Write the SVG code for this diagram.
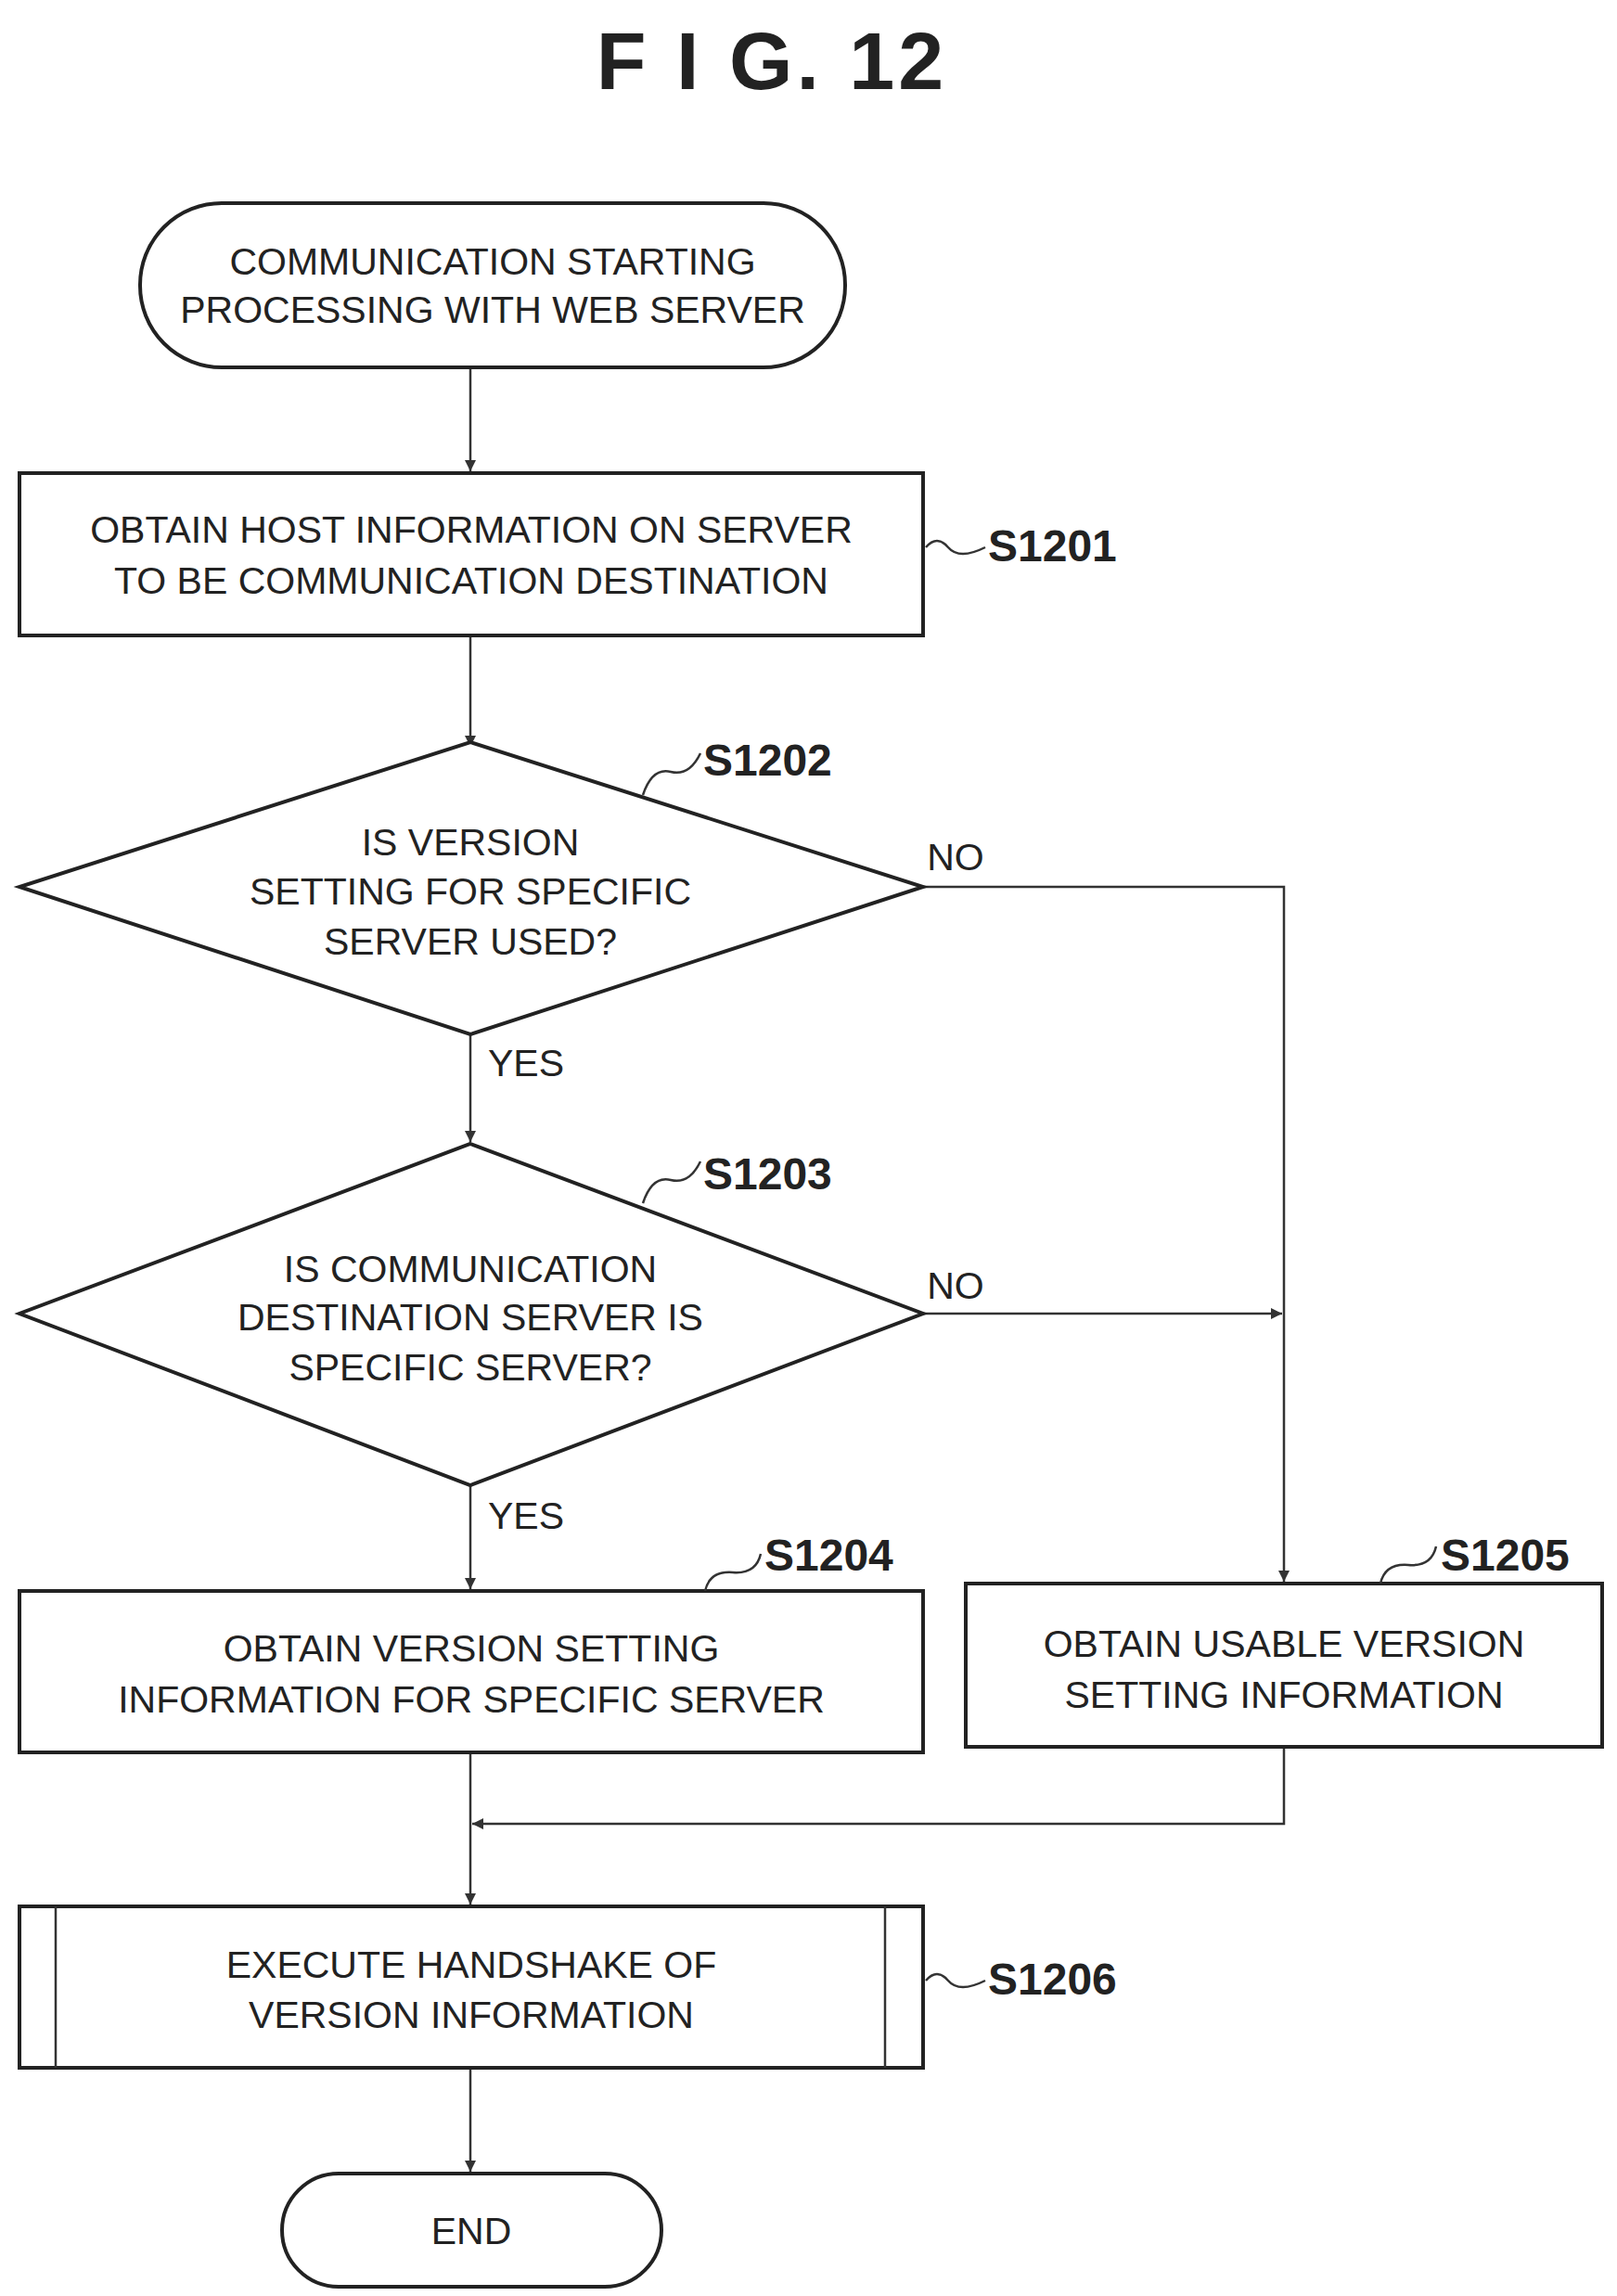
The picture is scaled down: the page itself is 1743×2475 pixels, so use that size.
<svg xmlns="http://www.w3.org/2000/svg" width="1743" height="2475" viewBox="0 0 1743 2475">
<style>
.s{fill:#fff;stroke:#222;stroke-width:4}
.t{font-family:"Liberation Sans",Arial,sans-serif;font-size:41px;fill:#222;text-anchor:middle}
.l{font-family:"Liberation Sans",Arial,sans-serif;font-size:48px;font-weight:bold;fill:#222}
.c{fill:none;stroke:#333;stroke-width:2.5}
</style>
<defs><marker id="a" markerWidth="14" markerHeight="14" refX="12" refY="7" orient="auto" markerUnits="userSpaceOnUse"><path d="M0,1 L12,7 L0,13 z" fill="#333"/></marker></defs>
<rect width="1743" height="2475" fill="#fff"/>
<text x="832" y="96" font-family="Liberation Sans,Arial,sans-serif" font-size="88" font-weight="bold" text-anchor="middle" letter-spacing="4" fill="#222">F I G. 12</text>
<g id="connectors">
<path class="c" d="M507,396 V508" marker-end="url(#a)"/>
<path class="c" d="M507,685 V805" marker-end="url(#a)"/>
<path class="c" d="M507,1115 V1231" marker-end="url(#a)"/>
<path class="c" d="M507,1601 V1713" marker-end="url(#a)"/>
<path class="c" d="M995,956 H1384 V1705" marker-end="url(#a)"/>
<path class="c" d="M995,1416 H1382" marker-end="url(#a)"/>
<path class="c" d="M1384,1883 V1966 H509" marker-end="url(#a)"/>
<path class="c" d="M507,1889 V2053" marker-end="url(#a)"/>
<path class="c" d="M507,2229 V2341" marker-end="url(#a)"/>
<text class="t" x="1030" y="938">NO</text>
<text class="t" x="1030" y="1400">NO</text>
<text class="t" x="567" y="1160">YES</text>
<text class="t" x="567" y="1648">YES</text>
</g>
<g id="start"><rect class="s" x="151" y="219" width="760" height="177" rx="88"/>
<text class="t" x="531" y="296">COMMUNICATION STARTING</text><text class="t" x="531" y="348">PROCESSING WITH WEB SERVER</text></g>
<g id="s1201"><rect class="s" x="21" y="510" width="974" height="175"/>
<text class="t" x="508" y="585">OBTAIN HOST INFORMATION ON SERVER</text><text class="t" x="508" y="640">TO BE COMMUNICATION DESTINATION</text>
<path class="c" d="M998,590 q12,-14 24,0 t40,0"/><text class="l" x="1065" y="605">S1201</text></g>
<g id="s1202"><path class="s" d="M507,800 L995,956 L507,1115 L21,956 Z"/>
<text class="t" x="507" y="922">IS VERSION</text><text class="t" x="507" y="975">SETTING FOR SPECIFIC</text><text class="t" x="507" y="1029">SERVER USED?</text>
<path class="c" d="M693,857 q10,-30 30,-25 t32,-20"/><text class="l" x="758" y="836">S1202</text></g>
<g id="s1203"><path class="s" d="M507,1233 L995,1416 L507,1601 L21,1416 Z"/>
<text class="t" x="507" y="1382">IS COMMUNICATION</text><text class="t" x="507" y="1434">DESTINATION SERVER IS</text><text class="t" x="507" y="1488">SPECIFIC SERVER?</text>
<path class="c" d="M693,1297 q10,-30 30,-25 t32,-20"/><text class="l" x="758" y="1282">S1203</text></g>
<g id="s1204"><rect class="s" x="21" y="1715" width="974" height="174"/>
<text class="t" x="508" y="1791">OBTAIN VERSION SETTING</text><text class="t" x="508" y="1846">INFORMATION FOR SPECIFIC SERVER</text>
<path class="c" d="M760,1715 q5,-22 30,-20 t30,-20"/><text class="l" x="824" y="1693">S1204</text></g>
<g id="s1205"><rect class="s" x="1041" y="1707" width="686" height="176"/>
<text class="t" x="1384" y="1786">OBTAIN USABLE VERSION</text><text class="t" x="1384" y="1841">SETTING INFORMATION</text>
<path class="c" d="M1488,1707 q5,-22 30,-20 t30,-20"/><text class="l" x="1553" y="1693">S1205</text></g>
<g id="s1206"><rect class="s" x="21" y="2055" width="974" height="174"/>
<line class="c" x1="60" y1="2055" x2="60" y2="2229"/><line class="c" x1="954" y1="2055" x2="954" y2="2229"/>
<text class="t" x="508" y="2132">EXECUTE HANDSHAKE OF</text><text class="t" x="508" y="2186">VERSION INFORMATION</text>
<path class="c" d="M998,2135 q12,-14 24,0 t40,0"/><text class="l" x="1065" y="2150">S1206</text></g>
<g id="end"><rect class="s" x="304" y="2343" width="409" height="122" rx="61"/>
<text class="t" x="508" y="2419">END</text></g>
</svg>
